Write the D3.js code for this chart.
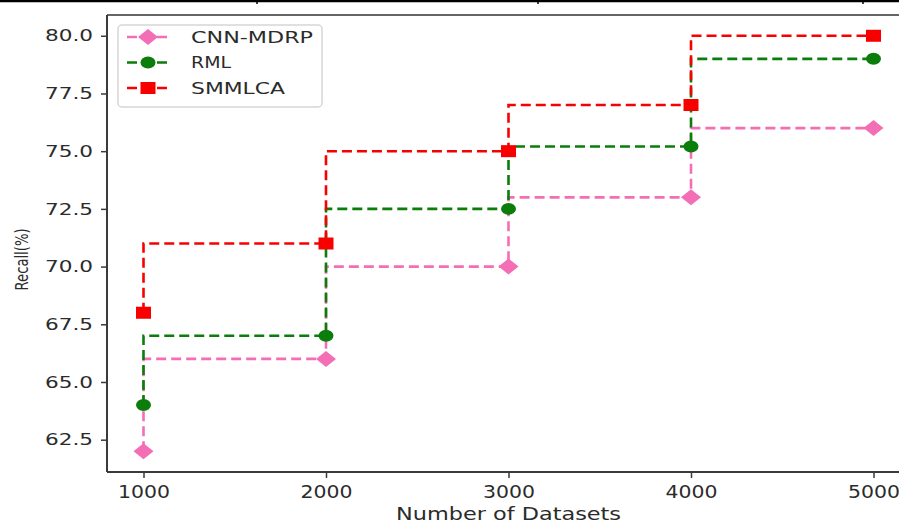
<!DOCTYPE html>
<html>
<head>
<meta charset="utf-8">
<script src="https://cdn.jsdelivr.net/npm/d3@7"></script>
<style>
  html, body { margin: 0; padding: 0; background: #fff; }
  svg { display: block; }
  text { font-family: "DejaVu Sans", sans-serif; fill: #2b2b2b; }
</style>
</head>
<body>
<script>
// ---- data ----
const datasets = [1000, 2000, 3000, 4000, 5000];
const cnnMdrp = [62, 66, 70, 73, 76];
const rml = [64, 67, 72.5, 75.2, 79];
const smmlca = [68, 71, 75, 77, 80];
const seriesNames = ["CNN-MDRP", "RML", "SMMLCA"];
const xTicks = [1000, 2000, 3000, 4000, 5000];
const yTicks = [62.5, 65, 67.5, 70, 72.5, 75, 77.5, 80];
const xTitle = "Number of Datasets";
const yTitle = "Recall(%)";

// ---- layout ----
const W = 899, H = 525;
const svg = d3.select("body").append("svg").attr("width", W).attr("height", H);

const x = d3.scaleLinear().domain([800, 5200]).range([107, 910]);
const y = d3.scaleLinear().domain([61.1, 80.9]).range([472, 15]);

const series = [
  { name: seriesNames[0], values: cnnMdrp, color: "#f46eb6", marker: "diamond" },
  { name: seriesNames[1], values: rml, color: "#0b7d0b", marker: "circle" },
  { name: seriesNames[2], values: smmlca, color: "#f80000", marker: "square" }
];

// decorative table border at the top
svg.append("line").attr("x1", 0).attr("x2", W).attr("y1", 1).attr("y2", 1)
  .attr("stroke", "#000").attr("stroke-width", 2.5);
[257, 538, 863].forEach(px => {
  svg.append("line").attr("x1", px).attr("x2", px).attr("y1", 0).attr("y2", 4)
    .attr("stroke", "#000").attr("stroke-width", 1.5);
});

// ---- axes ----
const axisColor = "#3a3a3a";
const [x0, x1] = x.range();
const [yb, yt] = y.range();

// spines
svg.append("line").attr("x1", x0).attr("x2", x1).attr("y1", yt).attr("y2", yt)
  .attr("stroke", "#666").attr("stroke-width", 2);
svg.append("line").attr("x1", x0).attr("x2", x0).attr("y1", yt).attr("y2", yb)
  .attr("stroke", axisColor).attr("stroke-width", 2);
svg.append("line").attr("x1", x0).attr("x2", x1).attr("y1", yb).attr("y2", yb)
  .attr("stroke", axisColor).attr("stroke-width", 2);

// y ticks
const yAxis = d3.axisLeft(y).tickValues(yTicks).tickFormat(d3.format(".1f")).tickSize(6).tickPadding(8);
const gy = svg.append("g").attr("transform", `translate(${x0},0)`).call(yAxis);
gy.select(".domain").remove();
gy.selectAll(".tick line").attr("stroke", axisColor).attr("stroke-width", 1.5);
gy.selectAll(".tick text")
  .attr("font-size", 16).attr("fill", "#2b2b2b")
  .attr("textLength", 48).attr("lengthAdjust", "spacingAndGlyphs")
  .style("font-family", "'DejaVu Sans', sans-serif");

// x ticks
const xAxis = d3.axisBottom(x).tickValues(xTicks).tickFormat(d3.format("d")).tickSize(6).tickPadding(7);
const gx = svg.append("g").attr("transform", `translate(0,${yb})`).call(xAxis);
gx.select(".domain").remove();
gx.selectAll(".tick line").attr("stroke", axisColor).attr("stroke-width", 1.5);
gx.selectAll(".tick text")
  .attr("font-size", 18).attr("fill", "#2b2b2b")
  .attr("textLength", 52).attr("lengthAdjust", "spacingAndGlyphs")
  .style("font-family", "'DejaVu Sans', sans-serif");

// axis titles
svg.append("text")
  .attr("x", (x0 + x1) / 2).attr("y", 520)
  .attr("text-anchor", "middle").attr("font-size", 18)
  .attr("textLength", 225).attr("lengthAdjust", "spacingAndGlyphs")
  .text(xTitle);

svg.append("text")
  .attr("transform", `translate(28,${(yt + yb) / 2 + 16}) scale(1.3,1) rotate(-90)`)
  .attr("text-anchor", "middle").attr("font-size", 14)
  .attr("textLength", 62).attr("lengthAdjust", "spacingAndGlyphs")
  .text(yTitle);

// ---- markers ----
function drawMarker(g, type, cx, cy, color, s) {
  s = s || 1;
  if (type === "diamond") {
    g.append("path")
      .attr("d", `M${cx - 10 * s},${cy} L${cx},${cy - 8 * s} L${cx + 10 * s},${cy} L${cx},${cy + 8 * s} Z`)
      .attr("fill", color);
  } else if (type === "circle") {
    g.append("ellipse").attr("cx", cx).attr("cy", cy)
      .attr("rx", 7.5 * s).attr("ry", 6 * s).attr("fill", color);
  } else {
    g.append("rect").attr("x", cx - 7.5 * s).attr("y", cy - 6 * s)
      .attr("width", 15 * s).attr("height", 12 * s).attr("fill", color);
  }
}

// ---- series ----
const line = d3.line().x(d => x(d[0])).y(d => y(d[1])).curve(d3.curveStepBefore);
series.forEach(s => {
  const g = svg.append("g");
  const pts = datasets.map((d, i) => [d, s.values[i]]);
  g.append("path").attr("d", line(pts))
    .attr("fill", "none").attr("stroke", s.color).attr("stroke-width", 2.6)
    .attr("stroke-dasharray", "10,5");
  pts.forEach(p => drawMarker(g, s.marker, x(p[0]), y(p[1]), s.color));
});

// ---- legend ----
const lg = svg.append("g");
lg.append("rect").attr("x", 118).attr("y", 25).attr("width", 204).attr("height", 82)
  .attr("rx", 4).attr("fill", "#fff").attr("fill-opacity", 0.85)
  .attr("stroke", "#d6d6d6").attr("stroke-width", 1.5);
const legendLens = [122, 40, 94];
series.forEach((s, i) => {
  const cy = 37 + i * 25.5;
  lg.append("line").attr("x1", 127).attr("x2", 170).attr("y1", cy).attr("y2", cy)
    .attr("stroke", s.color).attr("stroke-width", 2.6).attr("stroke-dasharray", "10,5");
  drawMarker(lg, s.marker, 148, cy, s.color);
  lg.append("text").attr("x", 191).attr("y", cy).attr("dy", "0.36em")
    .attr("font-size", 16).attr("textLength", legendLens[i]).attr("lengthAdjust", "spacingAndGlyphs")
    .text(s.name);
});
</script>
</body>
</html>
